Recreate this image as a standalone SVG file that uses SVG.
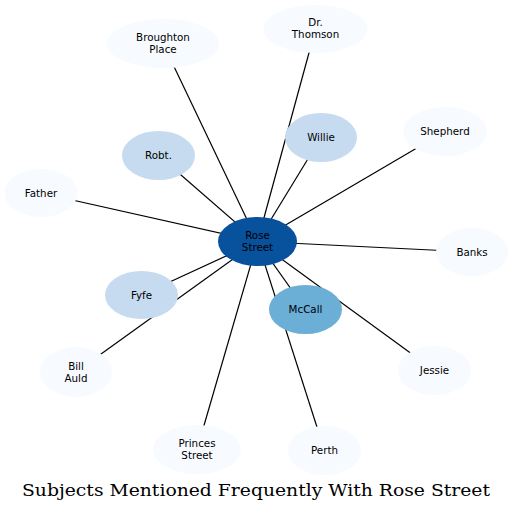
<svg xmlns="http://www.w3.org/2000/svg" width="513" height="511" viewBox="0 0 513 511">
<style>
.e{stroke:#000;stroke-width:1.2;fill:none}
.n text{font-family:"DejaVu Sans",sans-serif;font-size:10.3px;fill:#000;text-anchor:middle}
.c1{fill:#f7fbff}
.c3{fill:#c6dbef}
.c5{fill:#6baed6}
.c8{fill:#08519c}
</style>
<rect width="513" height="511" fill="#fff"/>
<g id="edges">
<line class="e" x1="257.5" y1="241.5" x2="163" y2="43.5"/>
<line class="e" x1="257.5" y1="241.5" x2="315.5" y2="29"/>
<line class="e" x1="257.5" y1="241.5" x2="158" y2="155"/>
<line class="e" x1="257.5" y1="241.5" x2="321" y2="137.5"/>
<line class="e" x1="257.5" y1="241.5" x2="445" y2="131.5"/>
<line class="e" x1="257.5" y1="241.5" x2="41" y2="193"/>
<line class="e" x1="257.5" y1="241.5" x2="472" y2="252"/>
<line class="e" x1="257.5" y1="241.5" x2="141.5" y2="295"/>
<line class="e" x1="257.5" y1="241.5" x2="76" y2="372"/>
<line class="e" x1="257.5" y1="241.5" x2="305.5" y2="309.5"/>
<line class="e" x1="257.5" y1="241.5" x2="434.5" y2="370.5"/>
<line class="e" x1="257.5" y1="241.5" x2="197" y2="449.5"/>
<line class="e" x1="257.5" y1="241.5" x2="324.5" y2="450.5"/>
</g>
<g id="broughton" class="n"><ellipse class="c1" cx="163" cy="43.5" rx="56" ry="24.5"/><text x="163" y="40.5">Broughton</text><text x="163" y="52.5">Place</text></g>
<g id="thomson" class="n"><ellipse class="c1" cx="315.5" cy="29" rx="52" ry="24"/><text x="315.5" y="26">Dr.</text><text x="315.5" y="38">Thomson</text></g>
<g id="robt" class="n"><ellipse class="c3" cx="158.5" cy="155.5" rx="36.5" ry="24.5"/><text x="158.5" y="159">Robt.</text></g>
<g id="willie" class="n"><ellipse class="c3" cx="321" cy="137.5" rx="36" ry="24.5"/><text x="321" y="141">Willie</text></g>
<g id="shepherd" class="n"><ellipse class="c1" cx="445" cy="131.5" rx="42" ry="24.5"/><text x="445" y="135">Shepherd</text></g>
<g id="father" class="n"><ellipse class="c1" cx="41" cy="193" rx="36.5" ry="24"/><text x="41" y="196.5">Father</text></g>
<g id="banks" class="n"><ellipse class="c1" cx="472" cy="252" rx="36" ry="24"/><text x="472" y="255.5">Banks</text></g>
<g id="rose" class="n"><ellipse class="c8" cx="257.5" cy="241.5" rx="39.5" ry="24.5"/><text x="257.5" y="238.5">Rose</text><text x="257.5" y="250.5">Street</text></g>
<g id="fyfe" class="n"><ellipse class="c3" cx="141.5" cy="295" rx="36.5" ry="24"/><text x="141.5" y="298.5">Fyfe</text></g>
<g id="mccall" class="n"><ellipse class="c5" cx="305.5" cy="309.5" rx="36.5" ry="24.5"/><text x="305.5" y="313">McCall</text></g>
<g id="jessie" class="n"><ellipse class="c1" cx="434.5" cy="370.5" rx="36.5" ry="24.5"/><text x="434.5" y="374">Jessie</text></g>
<g id="billauld" class="n"><ellipse class="c1" cx="76" cy="372" rx="36" ry="25"/><text x="76" y="369.5">Bill</text><text x="76" y="381.5">Auld</text></g>
<g id="princes" class="n"><ellipse class="c1" cx="197" cy="449.5" rx="44" ry="24.5"/><text x="197" y="446.5">Princes</text><text x="197" y="458.5">Street</text></g>
<g id="perth" class="n"><ellipse class="c1" cx="324.5" cy="450.5" rx="36.5" ry="24.5"/><text x="324.5" y="454">Perth</text></g>
<text x="256" y="496" font-family="'DejaVu Serif','Liberation Serif',serif" font-size="17" text-anchor="middle" textLength="468" lengthAdjust="spacingAndGlyphs">Subjects Mentioned Frequently With Rose Street</text>
</svg>
